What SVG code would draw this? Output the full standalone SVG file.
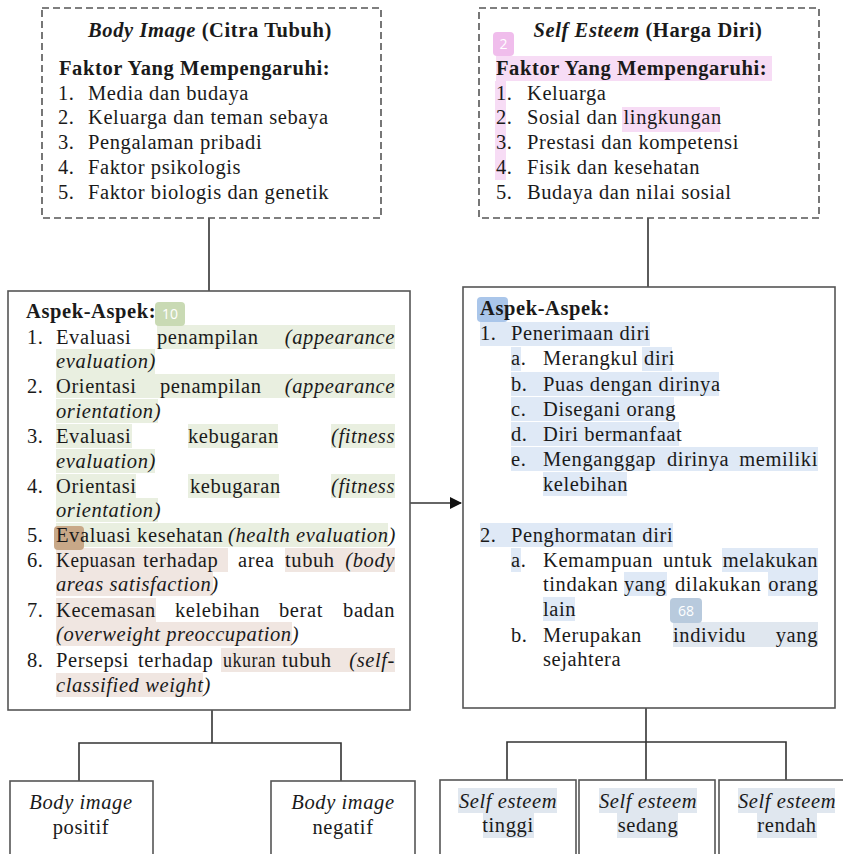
<svg xmlns="http://www.w3.org/2000/svg" width="843" height="854" viewBox="0 0 843 854">
<style>
text{font-family:"Liberation Serif","Times New Roman",serif;font-size:20.5px;letter-spacing:0.6px;fill:#1a1a1a}
.b{font-weight:bold}
.i{font-style:italic}
.e{text-anchor:end}
.m{text-anchor:middle}
.box{fill:#fff;stroke:#555;stroke-width:1.6}
.dash{fill:#fff;stroke:#555;stroke-width:1.6;stroke-dasharray:7 4}
.ln{fill:none;stroke:#333;stroke-width:1.6}
.pk{fill:#f7dcf5}
.gr{fill:#e9efe0}
.bg{fill:#f0e6e1}
.bl{fill:#dfe9f6}
.bl2{fill:#e0e7ef}
.badge{font-family:"Open Sans","DejaVu Sans",sans-serif;font-size:14px;letter-spacing:0;fill:#fff;text-anchor:middle}
</style>
<defs>
<marker id="arr" markerWidth="12" markerHeight="12" refX="11" refY="6" orient="auto" markerUnits="userSpaceOnUse">
<path d="M0,0 L12,6 L0,12 z" fill="#111"/>
</marker>
</defs>

<g id="connectors">
<line class="ln" x1="209" y1="218" x2="209" y2="291"/>
<line class="ln" x1="648" y1="218" x2="648" y2="287"/>
<line class="ln" x1="410" y1="503" x2="461" y2="503" marker-end="url(#arr)"/>
<polyline class="ln" points="212,710 212,743"/>
<polyline class="ln" points="79,781 79,743 341,743 341,781"/>
<polyline class="ln" points="646,708 646,780"/>
<polyline class="ln" points="507,780 507,742 786,742 786,780"/>
</g>

<g id="body-image-factors">
<rect class="dash" x="42" y="8" width="339" height="210"/>
<text class="m b" x="210" y="37"><tspan class="i">Body Image</tspan> (Citra Tubuh)</text>
<text class="b" x="59" y="75">Faktor Yang Mempengaruhi:</text>
<text x="58" y="100">1.</text><text x="88" y="100">Media dan budaya</text>
<text x="58" y="124">2.</text><text x="88" y="124">Keluarga dan teman sebaya</text>
<text x="58" y="149">3.</text><text x="88" y="149">Pengalaman pribadi</text>
<text x="58" y="174">4.</text><text x="88" y="174">Faktor psikologis</text>
<text x="58" y="199">5.</text><text x="88" y="199">Faktor biologis dan genetik</text>
</g>

<g id="self-esteem-factors">
<rect class="dash" x="479" y="8" width="340" height="210"/>
<rect class="pk" x="496" y="56" width="276" height="25"/>
<rect class="pk" x="495" y="81" width="11" height="99"/>
<rect class="pk" x="622" y="107" width="98" height="25"/>
<rect x="493" y="32" width="21" height="24" rx="4" fill="#f0bdec"/>
<text class="badge" x="503.5" y="49">2</text>
<text class="m b" x="648" y="37"><tspan class="i">Self Esteem</tspan> (Harga Diri)</text>
<text class="b" x="496" y="75">Faktor Yang Mempengaruhi:</text>
<text x="496" y="100">1.</text><text x="527" y="100">Keluarga</text>
<text x="496" y="124">2.</text><text x="527" y="124">Sosial dan lingkungan</text>
<text x="496" y="149">3.</text><text x="527" y="149">Prestasi dan kompetensi</text>
<text x="496" y="174">4.</text><text x="527" y="174">Fisik dan kesehatan</text>
<text x="496" y="199">5.</text><text x="527" y="199">Budaya dan nilai sosial</text>
</g>

<g id="body-image-aspects">
<rect class="box" x="8" y="291" width="402" height="419"/>
<rect class="gr" x="157" y="325" width="238" height="24"/>
<rect class="gr" x="56" y="349" width="99" height="25"/>
<rect class="gr" x="56" y="374" width="339" height="24"/>
<rect class="gr" x="56" y="399" width="102" height="24"/>
<rect class="gr" x="56" y="424" width="76" height="24"/>
<rect class="gr" x="188" y="424" width="90" height="24"/>
<rect class="gr" x="331" y="424" width="64" height="24"/>
<rect class="gr" x="56" y="449" width="99" height="24"/>
<rect class="gr" x="56" y="474" width="80" height="24"/>
<rect class="gr" x="188" y="474" width="91" height="24"/>
<rect class="gr" x="331" y="474" width="64" height="24"/>
<rect class="gr" x="56" y="498" width="102" height="24"/>
<rect class="gr" x="56" y="523" width="332" height="24"/>
<rect class="bg" x="56" y="548" width="172" height="24"/>
<rect class="bg" x="285" y="548" width="110" height="24"/>
<rect class="bg" x="56" y="572" width="157" height="24"/>
<rect class="bg" x="56" y="598" width="100" height="24"/>
<rect class="bg" x="56" y="622" width="236" height="24"/>
<rect class="bg" x="221" y="648" width="174" height="24"/>
<rect class="bg" x="56" y="673" width="147" height="24"/>
<rect x="155" y="302" width="30" height="24" rx="4" fill="#c9dab4"/>
<text class="badge" x="170" y="319">10</text>
<rect x="54" y="526" width="30" height="24" rx="4" fill="#c8a888"/>
<text class="b" x="26" y="318">Aspek-Aspek:</text>
<text x="27" y="344">1.</text><text x="56" y="344">Evaluasi</text><text x="157" y="344">penampilan</text><text class="i e" x="395" y="344">(appearance</text>
<text class="i" x="56" y="368">evaluation)</text>
<text x="27" y="393">2.</text><text x="56" y="393">Orientasi</text><text x="160" y="393">penampilan</text><text class="i e" x="395" y="393">(appearance</text>
<text class="i" x="56" y="418">orientation)</text>
<text x="27" y="443">3.</text><text x="56" y="443">Evaluasi</text><text x="188" y="443">kebugaran</text><text class="i e" x="395" y="443">(fitness</text>
<text class="i" x="56" y="468">evaluation)</text>
<text x="27" y="493">4.</text><text x="56" y="493">Orientasi</text><text x="190" y="493">kebugaran</text><text class="i e" x="395" y="493">(fitness</text>
<text class="i" x="56" y="517">orientation)</text>
<text x="27" y="542">5.</text><text x="56" y="542">Evaluasi kesehatan</text><text class="i" x="228" y="542">(health evaluation)</text>
<text x="27" y="567">6.</text><text x="56" y="567" textLength="80" lengthAdjust="spacingAndGlyphs">Kepuasan</text><text x="143" y="567">terhadap</text><text x="238" y="567">area</text><text x="285" y="567">tubuh</text><text class="i e" x="395" y="567">(body</text>
<text class="i" x="56" y="591">areas satisfaction)</text>
<text x="27" y="617">7.</text><text x="56" y="617">Kecemasan</text><text x="175" y="617">kelebihan</text><text x="279" y="617">berat</text><text class="e" x="395" y="617">badan</text>
<text class="i" x="56" y="641">(overweight preoccupation)</text>
<text x="27" y="667">8.</text><text x="56" y="667">Persepsi</text><text x="138" y="667">terhadap</text><text x="223" y="667" textLength="53" lengthAdjust="spacingAndGlyphs">ukuran</text><text x="282" y="667">tubuh</text><text class="i e" x="395" y="667">(self-</text>
<text class="i" x="56" y="692">classified weight)</text>
</g>

<g id="self-esteem-aspects">
<rect class="box" x="463" y="287" width="372" height="421"/>
<rect class="bl" x="480" y="322" width="170" height="24"/>
<rect class="bl" x="511" y="347" width="10" height="24"/>
<rect class="bl" x="642" y="347" width="30" height="24"/>
<rect class="bl" x="511" y="372" width="208" height="24"/>
<rect class="bl" x="511" y="397" width="163" height="24"/>
<rect class="bl" x="511" y="422" width="168" height="24"/>
<rect class="bl" x="511" y="447" width="307" height="24"/>
<rect class="bl" x="543" y="472" width="84" height="24"/>
<rect class="bl" x="480" y="523" width="193" height="24"/>
<rect class="bl" x="511" y="548" width="10" height="24"/>
<rect class="bl" x="722" y="548" width="96" height="24"/>
<rect class="bl" x="624" y="572" width="43" height="24"/>
<rect class="bl" x="768" y="572" width="50" height="24"/>
<rect class="bl" x="543" y="597" width="32" height="24"/>
<rect class="bl2" x="673" y="622" width="145" height="25"/>
<rect x="477" y="297" width="31" height="25" rx="4" fill="#aac6ea"/>
<rect x="670" y="598" width="32" height="25" rx="4" fill="#b8cadd"/>
<text class="badge" x="686" y="616">68</text>
<text class="b" x="480" y="315">Aspek-Aspek:</text>
<text x="480" y="340">1.</text><text x="511" y="340">Penerimaan diri</text>
<text x="511" y="365">a.</text><text x="543" y="365">Merangkul diri</text>
<text x="511" y="391">b.</text><text x="543" y="391">Puas dengan dirinya</text>
<text x="511" y="416">c.</text><text x="543" y="416">Disegani orang</text>
<text x="511" y="441">d.</text><text x="543" y="441">Diri bermanfaat</text>
<text x="511" y="466">e.</text><text x="543" y="466">Menganggap</text><text x="667" y="466">dirinya</text><text class="e" x="818" y="466">memiliki</text>
<text x="543" y="491">kelebihan</text>
<text x="480" y="542">2.</text><text x="511" y="542">Penghormatan diri</text>
<text x="511" y="567">a.</text><text x="543" y="567">Kemampuan</text><text x="663" y="567">untuk</text><text class="e" x="818" y="567">melakukan</text>
<text x="543" y="591">tindakan</text><text x="624" y="591">yang</text><text x="675" y="591">dilakukan</text><text class="e" x="818" y="591">orang</text>
<text x="543" y="616">lain</text>
<text x="511" y="642">b.</text><text x="543" y="642">Merupakan</text><text x="673" y="642">individu</text><text class="e" x="818" y="642">yang</text>
<text x="543" y="666">sejahtera</text>
</g>

<g id="body-image-positif">
<rect class="box" x="10" y="781" width="143" height="90"/>
<text class="m i" x="81" y="809">Body image</text>
<text class="m" x="81" y="834">positif</text>
</g>
<g id="body-image-negatif">
<rect class="box" x="271" y="781" width="144" height="90"/>
<text class="m i" x="343" y="809">Body image</text>
<text class="m" x="343" y="834">negatif</text>
</g>

<g id="self-esteem-tinggi">
<rect class="box" x="440" y="780" width="136" height="90"/>
<rect class="bl2" x="458" y="788" width="99" height="25"/>
<rect class="bl2" x="483" y="813" width="51" height="25"/>
<text class="m i" x="508" y="808">Self esteem</text>
<text class="m" x="508" y="832">tinggi</text>
</g>
<g id="self-esteem-sedang">
<rect class="box" x="579" y="780" width="136" height="90"/>
<rect class="bl2" x="599" y="788" width="98" height="25"/>
<rect class="bl2" x="617" y="813" width="61" height="25"/>
<text class="m i" x="648" y="808">Self esteem</text>
<text class="m" x="648" y="832">sedang</text>
</g>
<g id="self-esteem-rendah">
<rect class="box" x="719" y="780" width="136" height="90"/>
<rect class="bl2" x="738" y="788" width="97" height="25"/>
<rect class="bl2" x="757" y="813" width="60" height="25"/>
<text class="m i" x="787" y="808">Self esteem</text>
<text class="m" x="787" y="832">rendah</text>
</g>
</svg>
